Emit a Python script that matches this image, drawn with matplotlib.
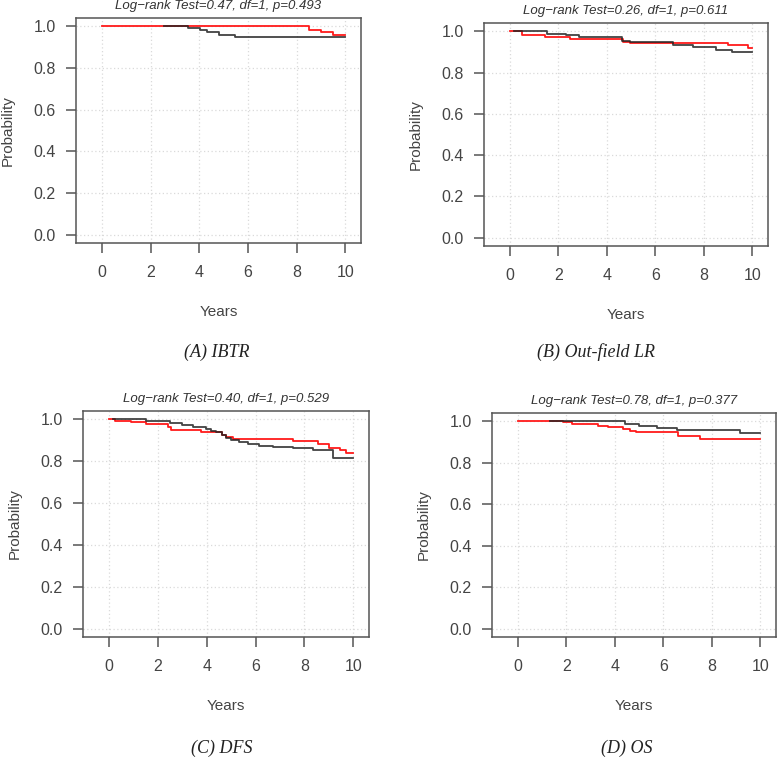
import matplotlib
matplotlib.use("Agg")
from matplotlib import pyplot as plt

# Kaplan-Meier curves (years, survival probability)
ibtr_black_t = [2.57, 3.55, 4.03, 4.30, 4.82, 5.46, 10.0]
ibtr_black_s = [1.0, 0.990, 0.981, 0.971, 0.960, 0.949, 0.949]
ibtr_red_t = [0, 8.5, 8.99, 9.47, 10.0]
ibtr_red_s = [1.0, 0.984, 0.971, 0.960, 0.960]

outfield_black_t = [0.19, 1.52, 2.32, 2.87, 4.63, 4.97, 6.72, 7.55, 8.51, 9.17, 10.0]
outfield_black_s = [1.0, 0.987, 0.981, 0.973, 0.952, 0.946, 0.933, 0.925, 0.909, 0.898, 0.898]
outfield_red_t = [0, 0.51, 1.47, 2.49, 4.66, 4.97, 8.99, 9.81, 10.0]
outfield_red_s = [1.0, 0.984, 0.974, 0.962, 0.949, 0.942, 0.933, 0.920, 0.920]

dfs_black_t = [0.17, 1.50, 2.48, 3.0, 3.43, 3.98, 4.18, 4.39, 4.63, 4.79, 5.0, 5.34,
               5.68, 6.16, 6.70, 7.52, 8.34, 9.15, 10.0]
dfs_black_s = [1.0, 0.994, 0.981, 0.973, 0.965, 0.955, 0.945, 0.939, 0.923, 0.911, 0.900,
               0.892, 0.881, 0.871, 0.868, 0.862, 0.852, 0.816, 0.816]
dfs_red_t = [0, 0.23, 0.91, 1.50, 2.41, 2.55, 3.78, 4.62, 4.8, 5.07, 7.52, 8.54, 8.99,
             9.47, 9.7, 10.0]
dfs_red_s = [1.0, 0.994, 0.989, 0.977, 0.965, 0.948, 0.939, 0.924, 0.916, 0.908, 0.897,
             0.881, 0.865, 0.852, 0.841, 0.841]

os_black_t = [1.33, 4.42, 5.0, 5.73, 6.55, 9.15, 10.0]
os_black_s = [1.0, 0.989, 0.979, 0.968, 0.957, 0.945, 0.945]
os_red_t = [0, 1.88, 2.22, 3.32, 3.73, 4.34, 4.62, 4.89, 6.61, 7.5, 10.0]
os_red_s = [1.0, 0.995, 0.987, 0.976, 0.971, 0.963, 0.955, 0.947, 0.928, 0.916, 0.916]

titles = ["Log\u2212rank Test=0.47, df=1, p=0.493",
          "Log\u2212rank Test=0.26, df=1, p=0.611",
          "Log\u2212rank Test=0.40, df=1, p=0.529",
          "Log\u2212rank Test=0.78, df=1, p=0.377"]
captions = ["(A) IBTR", "(B) Out-field LR", "(C) DFS", "(D) OS"]
x_ticks = [0, 2, 4, 6, 8, 10]
y_ticks = [0.0, 0.2, 0.4, 0.6, 0.8, 1.0]

W, H = 778, 758
plt.rcParams['font.family'] = ['Liberation Sans', 'DejaVu Sans']
fig = plt.figure(figsize=(W / 100, H / 100), dpi=100)

# axes boxes in pixels: left, right, top, bottom
boxes = [(76, 361, 18, 243), (484, 768, 23, 246), (83, 369, 411, 637), (492, 776, 413, 637)]
curves = [(ibtr_black_t, ibtr_black_s, ibtr_red_t, ibtr_red_s),
          (outfield_black_t, outfield_black_s, outfield_red_t, outfield_red_s),
          (dfs_black_t, dfs_black_s, dfs_red_t, dfs_red_s),
          (os_black_t, os_black_s, os_red_t, os_red_s)]
caption_pos = [(217, 352), (596, 352), (222, 748), (627, 748)]
txt = "#444444"
edge = "#555555"

for i in range(4):
    l, r, t, b = boxes[i]
    ax = fig.add_axes([l / W, 1 - b / H, (r - l) / W, (b - t) / H])
    bt, bs, rt, rs = curves[i]
    ax.step(rt, rs, where="post", color="#ff1a1a", lw=1.3, zorder=3)
    ax.step(bt, bs, where="post", color="#222222", lw=1.3, alpha=0.85, zorder=4)
    ax.set_xlim(-1.06, 10.64)
    ax.set_ylim(-0.04, 1.04)
    ax.set_xticks(x_ticks)
    ax.set_yticks(y_ticks)
    ax.set_yticklabels(["%.1f" % v for v in y_ticks])
    ax.grid(True, color="#dadada", linestyle=(0, (1, 2)), lw=0.9)
    ax.set_axisbelow(True)
    for s in ax.spines.values():
        s.set_color(edge)
        s.set_linewidth(1.1)
    ax.tick_params(direction="out", length=7.5, width=1.1, color=edge,
                   labelsize=11.5, labelcolor=txt)
    ax.tick_params(axis="x", pad=8)
    ax.tick_params(axis="y", pad=7)
    ax.annotate(titles[i], xy=(0.5, 1), xycoords="axes fraction", xytext=(0, 12),
                textcoords="offset pixels", ha="center", va="center",
                fontsize=9.5, style="italic", color="#333333")
    ax.annotate("Years", xy=(0.5, 0), xycoords="axes fraction", xytext=(0, -69),
                textcoords="offset pixels", ha="center", va="center",
                fontsize=11, color=txt)
    ax.annotate("Probability", xy=(0, 0.5), xycoords="axes fraction", xytext=(-68, 0),
                textcoords="offset pixels", ha="center", va="center",
                fontsize=11, color=txt, rotation=90)
    cx, cy = caption_pos[i]
    fig.text(cx / W, 1 - cy / H, captions[i], ha="center", va="center",
             fontsize=13, style="italic", family="Liberation Serif", color="#222222")

fig.savefig("out.png", dpi=100)
